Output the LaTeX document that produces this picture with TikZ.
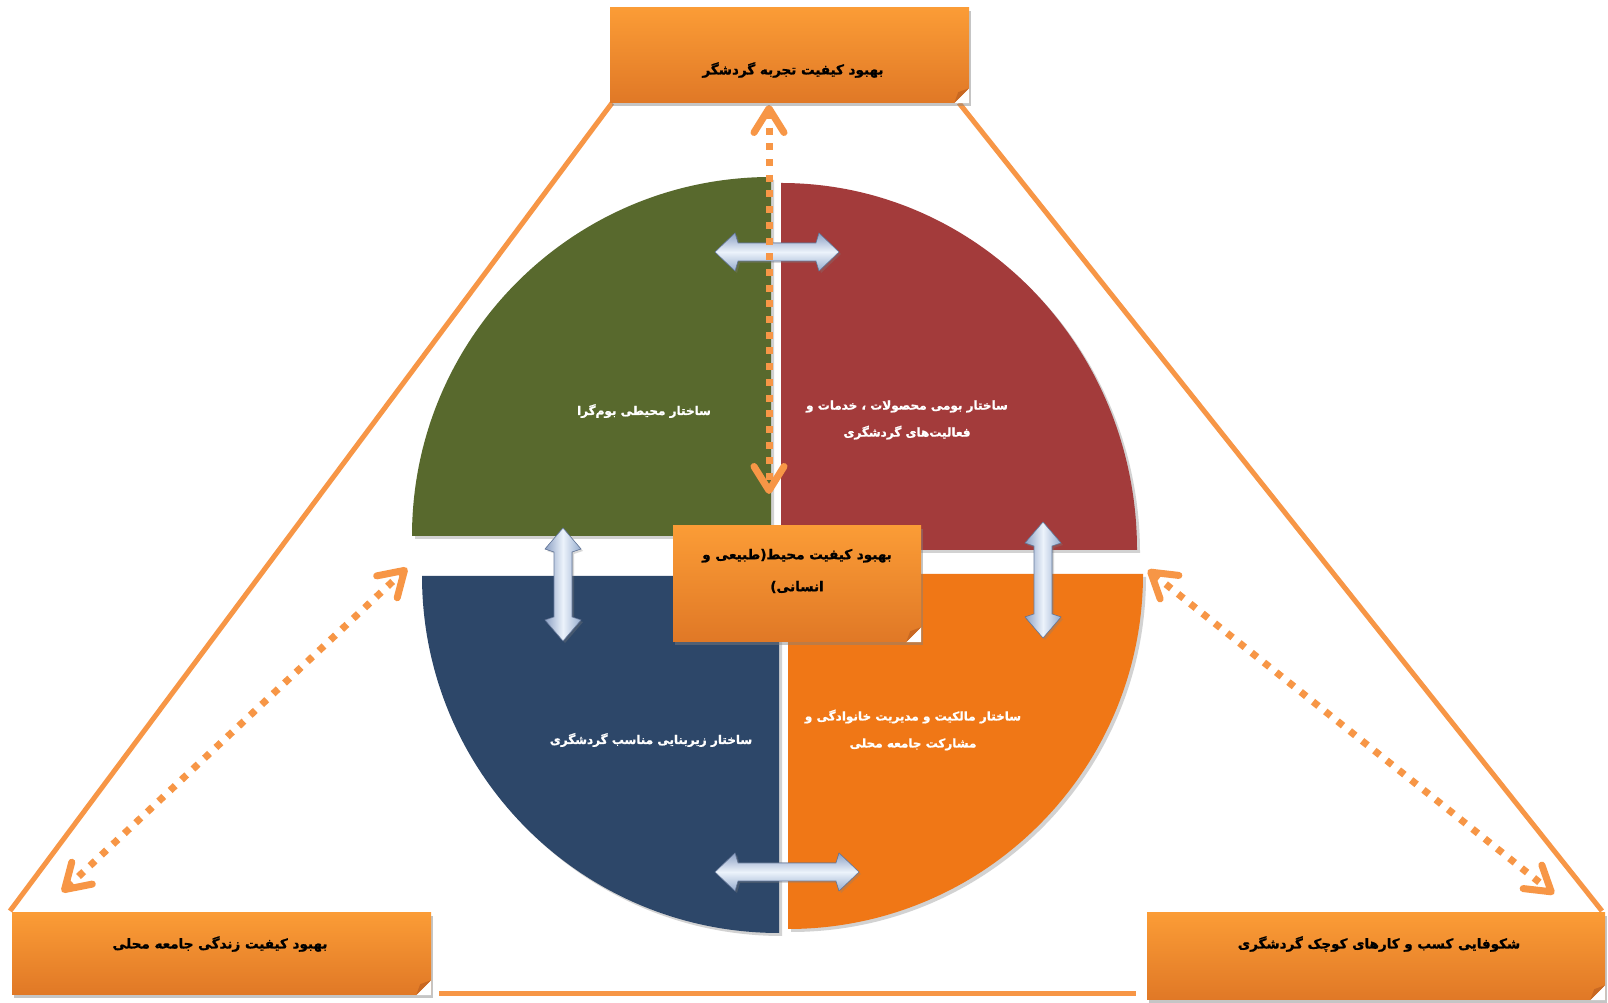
\documentclass[tikz,border=0pt]{standalone}
\usepackage{fontspec}
\newfontfamily\fa[Script=Arabic, BoldFeatures={FakeBold=1.2}]{DejaVu Sans}
\TeXXeTstate=1
\usetikzlibrary{arrows.meta,shadows,calc}
\definecolor{lorange}{RGB}{247,150,70}
\definecolor{boxtop}{RGB}{251,156,54}
\definecolor{boxbot}{RGB}{224,120,38}
\definecolor{foldc}{RGB}{200,104,34}
\definecolor{qgreen}{RGB}{88,105,45}
\definecolor{qred}{RGB}{163,59,59}
\definecolor{qblue}{RGB}{45,71,105}
\definecolor{qorange}{RGB}{240,119,22}
\definecolor{bA}{RGB}{140,160,196}
\definecolor{bB}{RGB}{150,172,206}
\definecolor{bHi}{RGB}{236,243,251}
\definecolor{bEdge}{RGB}{105,125,160}
\newcommand\hdbl[3]{%
  \filldraw[blarH] (#1,#3) -- ({#1+20},{#3+19}) -- ({#1+23},{#3+9}) -- ({#2-23},{#3+9}) -- ({#2-20},{#3+19}) -- (#2,#3) -- ({#2-20},{#3-19}) -- ({#2-23},{#3-9}) -- ({#1+23},{#3-9}) -- ({#1+20},{#3-19}) -- cycle;}
\newcommand\vdbl[3]{%
  \filldraw[blarV] (#1,#2) -- ({#1+18},{#2+21}) -- ({#1+9},{#2+24}) -- ({#1+9},{#3-24}) -- ({#1+18},{#3-21}) -- (#1,#3) -- ({#1-18},{#3-21}) -- ({#1-9},{#3-24}) -- ({#1-9},{#2+24}) -- ({#1-18},{#2+21}) -- cycle;}
\newcommand\fold[1]{%
  \fill[white] ($(#1.south east)+(-15,0)$) -- (#1.south east) -- ($(#1.south east)+(0,15)$) -- cycle;
  \fill[foldc] ($(#1.south east)+(-15,0)$) -- ($(#1.south east)+(0,15)$) -- ($(#1.south east)+(-11,11)$) -- cycle;}
\begin{document}
\begin{tikzpicture}[x=1pt,y=1pt,
  tri/.style={draw=lorange, line width=5pt},
  quad/.style={drop shadow={opacity=0.35, shadow xshift=3pt, shadow yshift=-3pt}},
  dotarrow/.style={draw=lorange, line width=7pt, dash pattern=on 7pt off 8.7pt,
     {Straight Barb[length=24pt,width=30pt,round]}-{Straight Barb[length=24pt,width=30pt,round]}},
  blarH/.style={draw=bEdge, line width=0.6pt, top color=bA, bottom color=bB, middle color=bHi,
     drop shadow={opacity=0.3, shadow xshift=2pt, shadow yshift=-2pt}},
  blarV/.style={draw=bEdge, line width=0.6pt, left color=bA, right color=bB, middle color=bHi,
     drop shadow={opacity=0.3, shadow xshift=2pt, shadow yshift=-2pt}},
  obox/.style={rectangle, inner sep=0pt, top color=boxtop, bottom color=boxbot,
     drop shadow={opacity=0.45, shadow xshift=2pt, shadow yshift=-3pt}},
  btext/.style={font=\fa\bfseries\fontsize{13.5}{32}\selectfont, text=black, align=center},
  qtext/.style={font=\fa\bfseries\fontsize{12}{27}\selectfont, text=white, align=center}]
\useasboundingbox (0,0) rectangle (1608,1003);
\fill[white] (0,0) rectangle (1608,1003);

% triangle
\draw[tri] (612,900) -- (10,92);
\draw[tri] (959,900) -- (1602,92);
\draw[tri] (439,9) -- (1136,9);

% quadrants
\fill[qgreen, quad] (771,467) -- (412,467) arc[start angle=180, end angle=90, radius=359] -- cycle;
\fill[qred, quad] (781,453) -- (781,820) arc[start angle=90, end angle=0, x radius=356, y radius=367] -- cycle;
\fill[qblue, quad] (779,427) -- (779,70) arc[start angle=270, end angle=180, radius=357] -- cycle;
\fill[qorange, quad] (788,429) -- (1143,429) arc[start angle=0, end angle=-90, radius=355] -- cycle;

% blue double arrows
\hdbl{715}{839}{751}
\hdbl{715}{859}{131}
\vdbl{563}{362}{475}
\vdbl{1043}{365}{481}

% dotted connectors
\coordinate (v1) at (769,898);
\coordinate (v2) at (769,509);
\coordinate (l1) at (62,111);
\coordinate (l2) at (407,435);
\coordinate (r1) at (1148,433);
\coordinate (r2) at (1554,109);
\draw[dotarrow] (v1) -- (v2);
\draw[dotarrow] (l1) -- (l2);
\draw[dotarrow] (r1) -- (r2);

% boxes
\node[obox, minimum width=359, minimum height=95] (topbox) at (789.5,947.5) {};
\fold{topbox}
\node[obox, minimum width=419, minimum height=82] (leftbox) at (221.5,49) {};
\fold{leftbox}
\node[obox, minimum width=458, minimum height=87] (rightbox) at (1376,46.5) {};
\fold{rightbox}
\node[obox, minimum width=248, minimum height=116] (midbox) at (797,419) {};
\fold{midbox}

% texts
\node[btext] (toptext) at (793,933) {\beginR بهبود کیفیت تجربه گردشگر\endR};
\node[btext] (lefttext) at (220,59) {\beginR بهبود کیفیت زندگی جامعه محلی\endR};
\node[btext] (righttext) at (1379,59) {\beginR شکوفایی کسب و کارهای کوچک  گردشگری\endR};
\node[btext] (midtext) at (797,432) {\beginR بهبود کیفیت محیط(طبیعی و\endR\\\beginR انسانی)\endR};
\node[qtext] (gtext) at (644,592) {\beginR ساختار محیطی بوم^^^^200cگرا\endR};
\node[qtext] (rtext) at (907,583) {\beginR ساختار بومی محصولات ، خدمات و\endR\\\beginR فعالیت^^^^200cهای گردشگری\endR};
\node[qtext] (btxt) at (651,263) {\beginR ساختار  زیربنایی مناسب  گردشگری\endR};
\node[qtext] (otext) at (913,273) {\beginR ساختار مالکیت و مدیریت خانوادگی و\endR\\\beginR مشارکت جامعه محلی\endR};
\end{tikzpicture}
\end{document}
